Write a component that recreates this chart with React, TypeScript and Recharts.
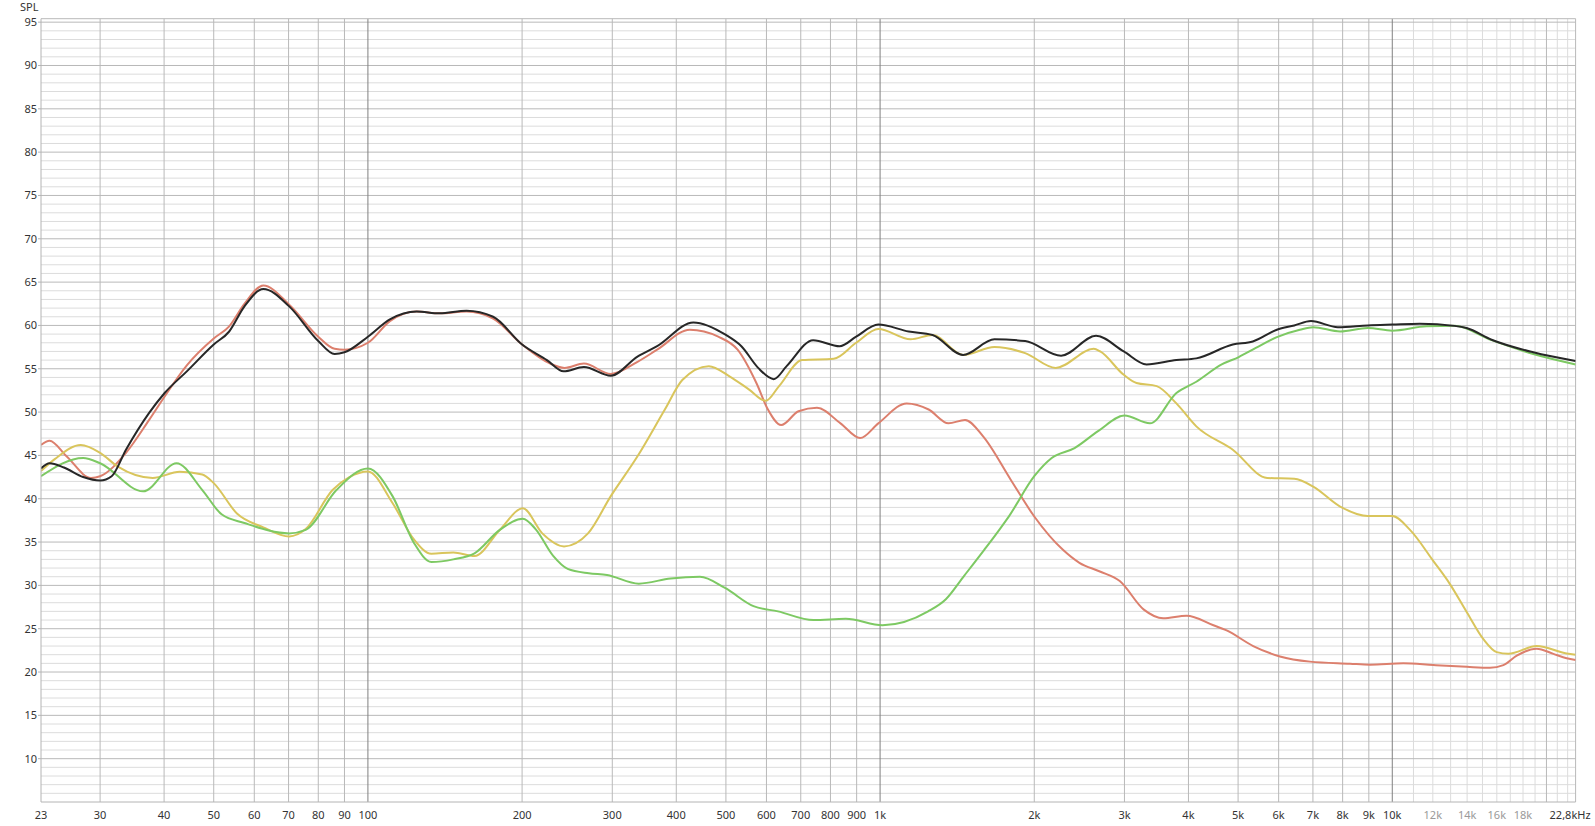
import React from 'react';
import { LineChart, Line, XAxis, YAxis, ReferenceLine } from 'recharts';

// ---- frequency axis ----
const FREQ_TICKS = [23, 30, 40, 50, 60, 70, 80, 90, 100, 200, 300, 400, 500, 600, 700, 800, 900, 1000, 2000, 3000, 4000, 5000, 6000, 7000, 8000, 9000, 10000, 12000, 14000, 16000, 18000, 22800];
const FREQ_LABELS = ['23', '30', '40', '50', '60', '70', '80', '90', '100', '200', '300', '400', '500', '600', '700', '800', '900', '1k', '2k', '3k', '4k', '5k', '6k', '7k', '8k', '9k', '10k', '12k', '14k', '16k', '18k', '22,8kHz'];
const LIGHT_TICKS = [12000, 14000, 16000, 18000];
const SPL_TICKS = [10, 15, 20, 25, 30, 35, 40, 45, 50, 55, 60, 65, 70, 75, 80, 85, 90, 95];

// ---- grid ----
const DECADE_LINES = [100, 1000, 10000];
const MAJOR_VLINES = [30, 40, 50, 60, 70, 80, 90, 200, 300, 400, 500, 600, 700, 800, 900, 2000, 3000, 4000, 5000, 6000, 7000, 8000, 9000, 20000];
const MINOR_VLINES = [11000, 12000, 13000, 14000, 15000, 16000, 17000, 18000, 19000, 21000, 22000];
const MINOR_HLINES = Array.from({ length: 90 }, (_, i) => 6 + i).filter((v) => v % 5 !== 0);

// ---- series: black (sum) ----
const sumFreq = [23, 23.9, 25.5, 27.8, 30, 31.6, 33.7, 37.4, 40.1, 44.3, 50, 53.6, 57.4, 62.5, 70.2, 80, 86.1, 90, 100, 110.4, 124.5, 138, 155.8, 175.6, 200, 223.6, 241, 264, 298, 336, 367, 432, 500, 536, 578, 620, 657, 740, 834, 898, 992, 1137, 1266, 1452, 1672, 1920, 2256, 2640, 2990, 3313, 3789, 4144, 4882, 5342, 5952, 6437, 6939, 7828, 8960, 10000, 11320, 13230, 13970, 15630, 18850, 22800];
const sumSpl = [43.5, 44.1, 43.6, 42.5, 42.1, 42.6, 45.65, 49.9, 52.2, 54.7, 57.8, 59.3, 62.2, 64.2, 62.2, 58.2, 56.7, 56.9, 58.7, 60.7, 61.6, 61.4, 61.7, 61.0, 57.8, 56.0, 54.7, 55.2, 54.2, 56.4, 57.6, 60.35, 58.9, 57.6, 55.1, 53.8, 55.3, 58.3, 57.6, 58.7, 60.1, 59.3, 58.9, 56.6, 58.4, 58.2, 56.5, 58.8, 57.0, 55.5, 56.0, 56.2, 57.8, 58.15, 59.5, 60.0, 60.5, 59.8, 60.0, 60.1, 60.2, 59.95, 59.7, 58.35, 56.9, 55.9];

// ---- series: red ----
const redFreq = [23, 23.9, 25.8, 28.8, 30, 33.7, 37.4, 40.1, 44.3, 50, 53.6, 57.4, 62.5, 70.2, 80, 86.1, 90, 100, 110.4, 124.5, 138, 155.8, 175.6, 200, 226, 242, 264, 298, 336, 367, 425, 483, 527, 574, 604, 641, 693, 753, 837, 914, 992, 1127, 1244, 1360, 1465, 1589, 1799, 2000, 2275, 2450, 2686, 2937, 3273, 3571, 3966, 4475, 4749, 5352, 6035, 6907, 8268, 9046, 10510, 12030, 13980, 15520, 16480, 17500, 19140, 20630, 21900, 22800];
const redSpl = [46.2, 46.7, 44.9, 42.4, 42.6, 45.3, 49.1, 51.8, 55.4, 58.5, 59.9, 62.5, 64.6, 62.4, 58.7, 57.3, 57.2, 58.0, 60.5, 61.6, 61.4, 61.6, 60.8, 57.8, 55.65, 55.1, 55.6, 54.4, 55.8, 57.2, 59.5, 58.7, 57.2, 53.3, 50.3, 48.5, 50.1, 50.5, 48.7, 47.0, 48.7, 51.0, 50.3, 48.7, 49.1, 47.2, 42.2, 37.95, 34.1, 32.6, 31.6, 30.5, 27.2, 26.2, 26.5, 25.4, 24.8, 23.0, 21.8, 21.2, 20.96, 20.85, 21.0, 20.8, 20.6, 20.5, 20.8, 21.9, 22.7, 22.1, 21.6, 21.4];

// ---- series: yellow ----
const yellowFreq = [23, 24.5, 27.5, 30, 32.5, 38, 42.9, 47.5, 50, 55.5, 62.5, 70.2, 75.6, 85.3, 92, 100, 111.7, 123, 133, 146.8, 161.5, 180.9, 200.7, 219, 241.5, 269, 298, 336, 380, 411, 463, 509, 555, 598, 635, 704, 812, 898, 992, 1147, 1266, 1452, 1672, 1920, 2202, 2613, 2690, 2990, 3167, 3468, 3789, 4144, 4882, 5698, 6437, 7008, 7910, 8960, 10000, 10830, 12030, 12960, 13980, 15060, 15990, 16850, 19140, 21900, 22800];
const yellowSpl = [43.2, 44.6, 46.2, 45.3, 43.7, 42.4, 43.1, 42.8, 41.8, 38.3, 36.7, 35.65, 36.5, 41.0, 42.5, 43.15, 39.5, 35.3, 33.65, 33.8, 33.4, 36.4, 38.9, 36.0, 34.5, 36.0, 40.3, 44.9, 50.3, 53.7, 55.3, 54.1, 52.6, 51.3, 53.0, 56.0, 56.15, 58.0, 59.6, 58.4, 58.9, 56.6, 57.5, 56.8, 55.1, 57.3, 57.0, 54.3, 53.35, 53.0, 51.0, 48.35, 45.65, 42.4, 42.3, 41.4, 39.1, 38.0, 38.0, 36.4, 32.8, 30.15, 26.9, 23.8, 22.3, 22.1, 23.0, 22.15, 22.0];

// ---- series: green ----
const greenFreq = [23, 27.8, 30, 36.4, 42.3, 47.5, 51.8, 57.4, 70.2, 75.6, 86.8, 100, 111.7, 123, 133, 146.8, 161.5, 180.9, 200.7, 212.5, 230, 245.5, 270, 293, 338, 390, 445, 498, 566, 632, 741, 857, 1011, 1241, 1344, 1459, 1597, 1713, 1786, 2000, 2163, 2397, 2664, 3000, 3364, 3789, 4144, 4645, 5015, 5415, 5952, 6600, 7008, 7910, 8960, 10000, 11660, 13230, 15630, 18850, 22800];
const greenSpl = [42.6, 44.7, 44.1, 40.85, 44.1, 41.0, 38.2, 37.2, 36.0, 36.4, 41.0, 43.5, 40.3, 34.9, 32.7, 33.0, 33.7, 36.4, 37.7, 36.5, 33.4, 31.9, 31.4, 31.2, 30.2, 30.8, 31.0, 29.7, 27.6, 27.0, 26.0, 26.15, 25.4, 27.0, 28.4, 31.1, 34.1, 36.5, 38.0, 42.6, 44.7, 45.85, 47.8, 49.6, 48.7, 52.2, 53.5, 55.5, 56.35, 57.4, 58.65, 59.5, 59.8, 59.3, 59.7, 59.4, 59.9, 59.95, 58.3, 56.7, 55.5];

const toData = (fs: number[], vs: number[]) => fs.map((f, i) => ({ f, v: vs[i] }));
const sumData = toData(sumFreq, sumSpl);
const redData = toData(redFreq, redSpl);
const yellowData = toData(yellowFreq, yellowSpl);
const greenData = toData(greenFreq, greenSpl);

const FONT = '"Noto Sans", "Open Sans", sans-serif';

const FreqTick = (props: any) => {
  const { x, y, payload } = props;
  const idx = FREQ_TICKS.indexOf(payload.value);
  const label = idx >= 0 ? FREQ_LABELS[idx] : String(payload.value);
  const light = LIGHT_TICKS.includes(payload.value);
  const isLast = payload.value === 22800;
  return (
    <text
      x={isLast ? x + 15 : x}
      y={y}
      dy="0.71em"
      textAnchor={isLast ? 'end' : 'middle'}
      fill={light ? '#9a9a9a' : '#333333'}
      fontSize={11}
      fontFamily={FONT}
    >
      {label}
    </text>
  );
};

export default function App() {
  return (
    <div style={{ position: 'absolute', left: 0, top: 0, width: 1595, height: 826, background: '#ffffff' }}>
      <div style={{ position: 'absolute', left: 20, top: 0, fontSize: 11, lineHeight: '14px', fontFamily: FONT, color: '#333333' }}>SPL</div>
      <LineChart width={1595} height={826} margin={{ top: 18.7, right: 19.4, bottom: 0, left: 0 }}>
        <XAxis
          dataKey="f"
          type="number"
          scale="log"
          domain={[23, 22800]}
          allowDataOverflow
          ticks={FREQ_TICKS}
          interval={0}
          height={24}
          tickLine={false}
          tickSize={0}
          tickMargin={9}
          axisLine={{ stroke: '#b4b4b4' }}
          tick={<FreqTick />}
        />
        <YAxis
          type="number"
          domain={[5, 95.4]}
          allowDataOverflow
          ticks={SPL_TICKS}
          interval={0}
          width={41}
          tickSize={3}
          tickMargin={1}
          tickLine={{ stroke: '#b4b4b4' }}
          axisLine={{ stroke: '#b4b4b4' }}
          tick={{ fill: '#333333', fontSize: 11, fontFamily: FONT }}
        />
        {MINOR_HLINES.map((v) => (
          <ReferenceLine key={'mh' + v} y={v} stroke="#dcdcdc" strokeWidth={1} />
        ))}
        {MINOR_VLINES.map((v) => (
          <ReferenceLine key={'mv' + v} x={v} stroke="#dcdcdc" strokeWidth={1} />
        ))}
        {SPL_TICKS.map((v) => (
          <ReferenceLine key={'Mh' + v} y={v} stroke="#b9b9b9" strokeWidth={1} />
        ))}
        {MAJOR_VLINES.map((v) => (
          <ReferenceLine key={'Mv' + v} x={v} stroke="#b9b9b9" strokeWidth={1} />
        ))}
        {DECADE_LINES.map((v) => (
          <ReferenceLine key={'dv' + v} x={v} stroke="#808080" strokeWidth={1} />
        ))}
        <ReferenceLine y={95.4} stroke="#b9b9b9" />
        <ReferenceLine x={22800} stroke="#b9b9b9" />
        <Line data={redData} dataKey="v" type="monotone" stroke="#dc7f6d" strokeWidth={2} dot={false} activeDot={false} isAnimationActive={false} />
        <Line data={yellowData} dataKey="v" type="monotone" stroke="#d9c55c" strokeWidth={2} dot={false} activeDot={false} isAnimationActive={false} />
        <Line data={greenData} dataKey="v" type="monotone" stroke="#7dc963" strokeWidth={2} dot={false} activeDot={false} isAnimationActive={false} />
        <Line data={sumData} dataKey="v" type="monotone" stroke="#272727" strokeWidth={2} dot={false} activeDot={false} isAnimationActive={false} />
      </LineChart>
    </div>
  );
}
